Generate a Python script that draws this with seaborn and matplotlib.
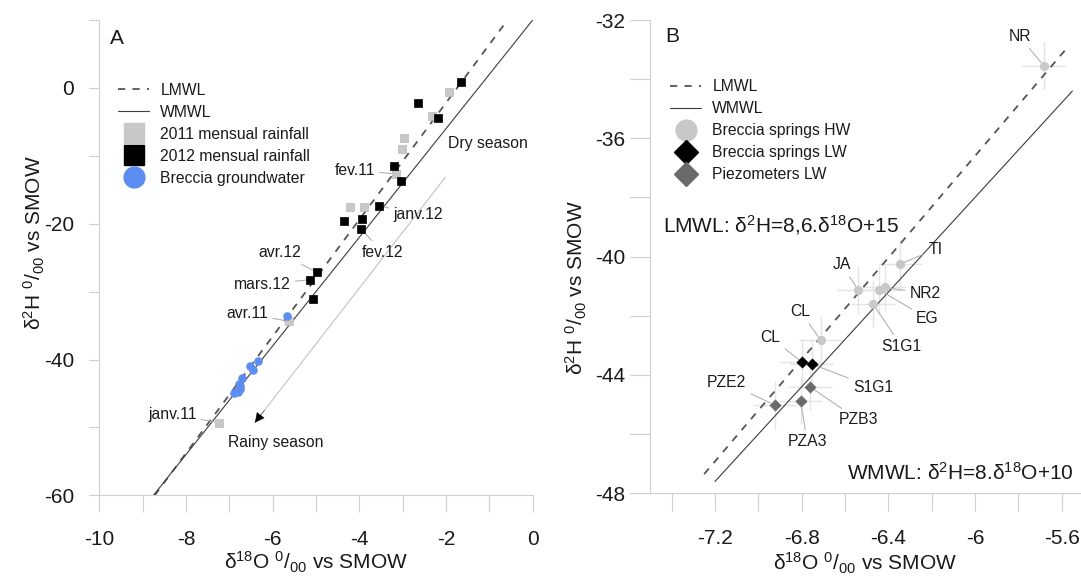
import numpy as np
import pandas as pd
import matplotlib
matplotlib.use("Agg")
import matplotlib.pyplot as plt
from matplotlib.lines import Line2D
import seaborn as sns

# ---------------- data: panel A ----------------
rain2011_x = [-1.93, -2.33, -2.97, -3.01, -3.155, -4.215, -3.885, -5.63, -7.23]
rain2011_y = [-0.54, -4.12, -7.4, -8.97, -12.65, -17.6, -17.6, -34.37, -49.3]
rain2012_x = [-1.654, -2.654, -2.18, -3.20, -3.046, -3.553, -4.347, -3.94, -3.96, -4.977, -5.13, -5.07]
rain2012_y = [0.93, -2.16, -4.36, -11.47, -13.78, -17.35, -19.56, -19.26, -20.78, -27.16, -28.24, -31.03]
gw_x = [-5.67, -6.33, -6.52, -6.45, -6.70, -6.78, -6.75, -6.75, -6.81, -6.885, -6.79]
gw_y = [-33.53, -40.15, -40.98, -41.57, -42.79, -43.57, -43.95, -44.41, -44.8, -45.0, -44.6]

labels_a = ["fev.11", "janv.12", "fev.12", "avr.12", "mars.12", "avr.11", "janv.11"]
labels_a_pt = [(-3.155, -12.65), (-3.553, -17.35), (-3.96, -20.78), (-4.977, -27.16),
               (-5.13, -28.24), (-5.63, -34.37), (-7.23, -49.3)]
labels_a_txt = [(-4.11, -12.2), (-2.64, -18.68), (-3.46, -24.22), (-5.84, -24.31),
                (-6.24, -28.97), (-6.585, -33.24), (-8.31, -48.09)]

lines_a_x = {"LMWL": [-8.72, -0.58], "WMWL": [-8.75, 0.0]}
season_arrow = [(-2.02, -13.2), (-6.41, -49.3)]

xticks_a = list(range(-10, 1))
xticklabels_a = ["-10", "", "-8", "", "-6", "", "-4", "", "-2", "", "0"]
yticks_a = [-60, -50, -40, -30, -20, -10, 0, 10]
yticklabels_a = ["-60", "", "-40", "", "-20", "", "0", ""]

# ---------------- data: panel B ----------------
hw_names = ["NR", "TI", "JA", "NR2", "EG", "S1G1", "CL"]
hw_x = [-5.682, -6.346, -6.538, -6.417, -6.441, -6.471, -6.712]
hw_y = [-33.55, -40.25, -41.13, -41.04, -41.13, -41.59, -42.82]
hw_txt = [(-5.794, -32.56), (-6.182, -39.75), (-6.615, -40.28), (-6.23, -41.24),
          (-6.22, -42.08), (-6.338, -43.04), (-6.805, -41.86)]
lw_names = ["CL", "S1G1"]
lw_x = [-6.798, -6.754]
lw_y = [-43.57, -43.63]
lw_txt = [(-6.943, -42.73), (-6.471, -44.42)]
pz_names = ["PZB3", "PZA3", "PZE2"]
pz_x = [-6.762, -6.805, -6.925]
pz_y = [-44.40, -44.87, -45.01]
pz_txt = [(-6.537, -45.52), (-6.774, -46.26), (-7.146, -44.26)]
x_err = 0.1
y_err = 0.8

lines_b_x = {"LMWL": [-7.25, -5.585], "WMWL": [-7.2, -5.55]}

xticks_b = [-7.4, -7.2, -7.0, -6.8, -6.6, -6.4, -6.2, -6.0, -5.8, -5.6]
xticklabels_b = ["", "-7.2", "", "-6.8", "", "-6.4", "", "-6", "", "-5.6"]
yticks_b = [-48, -46, -44, -42, -40, -38, -36, -34, -32]
yticklabels_b = ["-48", "", "-44", "", "-40", "", "-36", "", "-32"]

def lmwl(x):
    return 8.6 * np.asarray(x) + 15

def wmwl(x):
    return 8.0 * np.asarray(x) + 10

# ---------------- style ----------------
sns.set_style("white")
plt.rcParams["font.family"] = ["Liberation Sans", "DejaVu Sans"]
plt.rcParams["mathtext.fontset"] = "custom"
plt.rcParams["mathtext.rm"] = "Liberation Sans"
plt.rcParams["mathtext.it"] = "Liberation Sans:italic"
plt.rcParams["mathtext.bf"] = "Liberation Sans:bold"

TXT = "#1a1a1a"
AX = "#cfcfcf"
LEAD = "#a8a8a8"
DASH = "#555555"
SOLID = "#3c3c3c"
GRAY_SQ = "#c8c8c8"
BLUE = "#5b8ef0"
HW_C = "#c8c8c8"
PZ_C = "#6a6a6a"

fig = plt.figure(figsize=(10.81, 5.76), dpi=100)
axA = fig.add_axes([99.3 / 1081, 1 - 495.3 / 576, 433.4 / 1081, 475.3 / 576])
axB = fig.add_axes([650 / 1081, 1 - 493.3 / 576, 430 / 1081, 473.3 / 576])

lab = r"$^{0}$/$_{00}$ vs SMOW"

def style_axes(ax, xl, yl, xt, xtl, yt, ytl, xlen, ylen, xpad, ypad):
    ax.set_xlim(*xl)
    ax.set_ylim(*yl)
    ax.set_xticks(xt)
    ax.set_xticklabels(xtl)
    ax.set_yticks(yt)
    ax.set_yticklabels(ytl)
    for s in ["top", "right"]:
        ax.spines[s].set_visible(False)
    for s in ["left", "bottom"]:
        ax.spines[s].set_color(AX)
        ax.spines[s].set_linewidth(0.8)
    ax.tick_params(axis="x", length=xlen, width=0.8, color=AX, pad=xpad,
                   labelsize=15, labelcolor=TXT, direction="out", bottom=True)
    ax.tick_params(axis="y", length=ylen, width=0.8, color=AX, pad=ypad,
                   labelsize=15, labelcolor=TXT, direction="out", left=True)
    ax.grid(False)

# ================= Panel A =================
ax = axA
sns.lineplot(x=lines_a_x["LMWL"], y=lmwl(lines_a_x["LMWL"]), ax=ax, color=DASH,
             linewidth=1.3, zorder=2)
ax.lines[-1].set_dashes((4, 4))
sns.lineplot(x=lines_a_x["WMWL"], y=wmwl(lines_a_x["WMWL"]), ax=ax, color=SOLID,
             linewidth=0.8, zorder=2)

# season arrow
ax.plot([season_arrow[0][0], season_arrow[1][0]], [season_arrow[0][1], season_arrow[1][1]],
        color="#c8c8c8", lw=0.9, zorder=1)
dx = season_arrow[1][0] - season_arrow[0][0]
dy = season_arrow[1][1] - season_arrow[0][1]
ax.annotate("", xy=season_arrow[1],
            xytext=(season_arrow[1][0] - 0.05 * dx, season_arrow[1][1] - 0.05 * dy),
            arrowprops=dict(arrowstyle="-|>", color="black", lw=0.3, mutation_scale=16,
                            shrinkA=0, shrinkB=0), zorder=3)

sns.scatterplot(x=rain2011_x, y=rain2011_y, ax=ax, marker="s", s=30, color=GRAY_SQ,
                edgecolor="#b8b8b8", linewidth=0.5, zorder=4)
sns.scatterplot(x=rain2012_x, y=rain2012_y, ax=ax, marker="s", s=30, color="black",
                edgecolor="black", linewidth=0.5, zorder=5)
sns.scatterplot(x=gw_x, y=gw_y, ax=ax, marker="o", s=34, color=BLUE,
                edgecolor=BLUE, linewidth=0.3, zorder=6)

for t, p, tp in zip(labels_a, labels_a_pt, labels_a_txt):
    ax.annotate(t, xy=p, xytext=tp, ha="center", va="center", fontsize=11.3, color=TXT,
                arrowprops=dict(arrowstyle="-", color=LEAD, lw=0.7, shrinkA=1, shrinkB=3))

ax.text(-1.955, -8.24, "Dry season", ha="left", va="center", fontsize=11.3, color=TXT)
ax.text(-5.923, -52.2, "Rainy season", ha="center", va="center", fontsize=11.3, color=TXT)
ax.text(0.0247, 0.962, "A", transform=ax.transAxes, ha="left", va="center",
        fontsize=15, color=TXT)

style_axes(ax, (-10, 0), (-60, 10), xticks_a, xticklabels_a, yticks_a, yticklabels_a,
           12.2, 7.2, 13.0, 11.0)
ax.set_xlabel("δ$^{18}$O " + lab, fontsize=15, color=TXT)
ax.set_ylabel("δ$^{2}$H " + lab, fontsize=15, color=TXT)
ax.xaxis.set_label_coords(0.5, -0.115)
ax.yaxis.set_label_coords(-0.121, 0.531)

hA = [Line2D([], [], color=DASH, lw=1.3, dashes=(4, 4)),
      Line2D([], [], color=SOLID, lw=0.8),
      Line2D([], [], ls="none", marker="s", ms=15, color=GRAY_SQ, mec=GRAY_SQ),
      Line2D([], [], ls="none", marker="s", ms=15, color="black"),
      Line2D([], [], ls="none", marker="o", ms=15, color=BLUE, mec=BLUE)]
ax.legend(hA, ["LMWL", "WMWL", "2011 mensual rainfall", "2012 mensual rainfall",
               "Breccia groundwater"], loc="upper left", bbox_to_anchor=(0.043, 0.868),
          frameon=False, fontsize=11.3, handlelength=2.0, handletextpad=0.7,
          labelspacing=0.45, borderaxespad=0, borderpad=0, labelcolor=TXT)

# ================= Panel B =================
ax = axB
sns.lineplot(x=lines_b_x["LMWL"], y=lmwl(lines_b_x["LMWL"]), ax=ax, color=DASH,
             linewidth=1.3, zorder=2)
ax.lines[-1].set_dashes((4, 4))
sns.lineplot(x=lines_b_x["WMWL"], y=wmwl(lines_b_x["WMWL"]), ax=ax, color=SOLID,
             linewidth=0.8, zorder=2)

all_x = hw_x + lw_x + pz_x
all_y = hw_y + lw_y + pz_y
ax.errorbar(all_x, all_y, xerr=x_err, yerr=y_err, fmt="none", ecolor="#e4e4e4",
            elinewidth=1.0, capsize=0, zorder=1)

sns.scatterplot(x=hw_x, y=hw_y, ax=ax, marker="o", s=40, color=HW_C, edgecolor=HW_C,
                linewidth=0.3, zorder=4)
sns.scatterplot(x=lw_x, y=lw_y, ax=ax, marker="D", s=34, color="black", edgecolor="black",
                linewidth=0.3, zorder=5)
sns.scatterplot(x=pz_x, y=pz_y, ax=ax, marker="D", s=34, color=PZ_C, edgecolor=PZ_C,
                linewidth=0.3, zorder=5)

for names, xs, ys, tps in [(hw_names, hw_x, hw_y, hw_txt), (lw_names, lw_x, lw_y, lw_txt),
                           (pz_names, pz_x, pz_y, pz_txt)]:
    for n, x, y, tp in zip(names, xs, ys, tps):
        ax.annotate(n, xy=(x, y), xytext=tp, ha="center", va="center", fontsize=11.3,
                    color=TXT, arrowprops=dict(arrowstyle="-", color=LEAD, lw=0.7,
                                               shrinkA=1, shrinkB=3))

ax.text(-7.439, -38.93, "LMWL: δ$^{2}$H=8,6.δ$^{18}$O+15", ha="left", va="center",
        fontsize=15, color=TXT)
ax.text(-5.543, -47.32, "WMWL: δ$^{2}$H=8.δ$^{18}$O+10", ha="right", va="center",
        fontsize=15, color=TXT)
ax.text(0.035, 0.965, "B", transform=ax.transAxes, ha="left", va="center",
        fontsize=15, color=TXT)

style_axes(ax, (-7.5, -5.515), (-48, -32), xticks_b, xticklabels_b, yticks_b, yticklabels_b,
           13.0, 14.4, 13.0, 3.6)
ax.set_xlabel("δ$^{18}$O " + lab, fontsize=15, color=TXT)
ax.set_ylabel("δ$^{2}$H " + lab, fontsize=15, color=TXT)
ax.xaxis.set_label_coords(0.5, -0.121)
ax.yaxis.set_label_coords(-0.143, 0.434)

hB = [Line2D([], [], color=DASH, lw=1.3, dashes=(4, 4)),
      Line2D([], [], color=SOLID, lw=0.8),
      Line2D([], [], ls="none", marker="o", ms=15, color=HW_C, mec=HW_C),
      Line2D([], [], ls="none", marker="D", ms=12, color="black"),
      Line2D([], [], ls="none", marker="D", ms=12, color=PZ_C, mec=PZ_C)]
ax.legend(hB, ["LMWL", "WMWL", "Breccia springs HW", "Breccia springs LW", "Piezometers LW"],
          loc="upper left", bbox_to_anchor=(0.0465, 0.875), frameon=False, fontsize=11.3,
          handlelength=2.0, handletextpad=0.7, labelspacing=0.45, borderaxespad=0,
          borderpad=0, labelcolor=TXT)

fig.savefig("out.png", dpi=100)
